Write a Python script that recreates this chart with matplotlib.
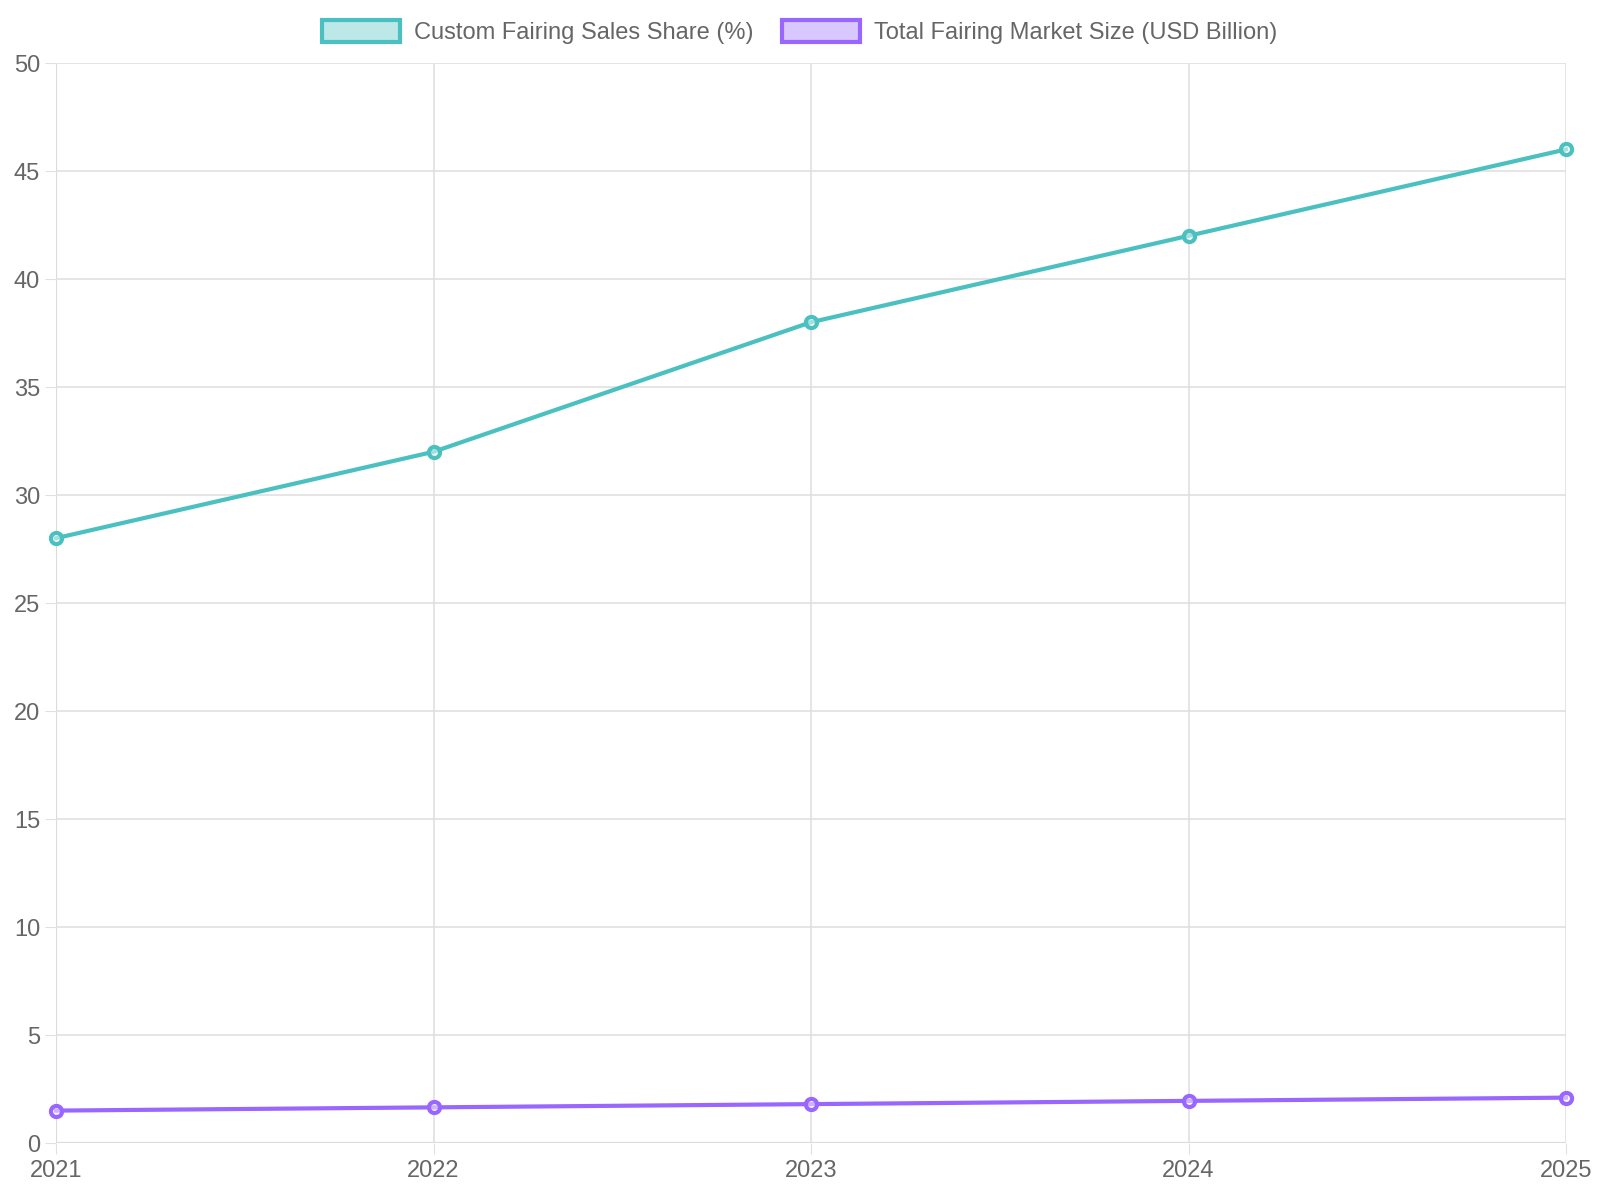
import matplotlib
matplotlib.use("Agg")
import matplotlib.pyplot as plt
from matplotlib.patches import Patch

plt.rcParams['font.family'] = ['Liberation Sans', 'DejaVu Sans']

years = ["2021", "2022", "2023", "2024", "2025"]
custom_share = [28, 32, 38, 42, 46]
market_size = [1.5, 1.65, 1.8, 1.95, 2.1]
labels = ["Custom Fairing Sales Share (%)", "Total Fairing Market Size (USD Billion)"]
colors = ["#4BC0C0", "#9966FF"]
fills = ["#BDE8E8", "#D9C7FF"]

L, R, T, B = 56, 1566, 63, 1143
fig = plt.figure(figsize=(16, 12), dpi=100)
ax = fig.add_axes([L/1600, 1 - B/1200, (R-L)/1600, (B-T)/1200])
x = list(range(len(years)))
for vals, c in zip([custom_share, market_size], colors):
    ax.plot(x, vals, color=c, lw=3, marker='o', ms=8, mfc=(1,1,1,0.5), mec=c, mew=3, clip_on=False, zorder=3)

ax.set_xlim(0, 4)
ax.set_ylim(0, 50)
ax.set_yticks(range(0, 51, 5))
ax.set_xticks(x)
ax.set_xticklabels(years)
ax.grid(True, color='#E0E0E0', lw=1.2)
for s in ax.spines.values():
    s.set_visible(False)
ax.axhline(0, color='#C8C8C8', lw=1.5, zorder=1)
ax.axvline(0, color='#C8C8C8', lw=1.5, zorder=1)
ax.tick_params(colors='#666666', labelsize=17, length=8, color='#E0E0E0')
ax.tick_params(axis='x', pad=4)

handles = [Patch(facecolor=f, edgecolor=c, lw=3) for f, c in zip(fills, colors)]
fig.legend(handles, labels, loc='center', bbox_to_anchor=(0.5, 1 - 32/1200), ncol=2,
           frameon=False, fontsize=17, labelcolor='#666666', handlelength=3.3, handleheight=1.1,
           columnspacing=1.2, handletextpad=0.6)

fig.savefig("out.png", dpi=100)
